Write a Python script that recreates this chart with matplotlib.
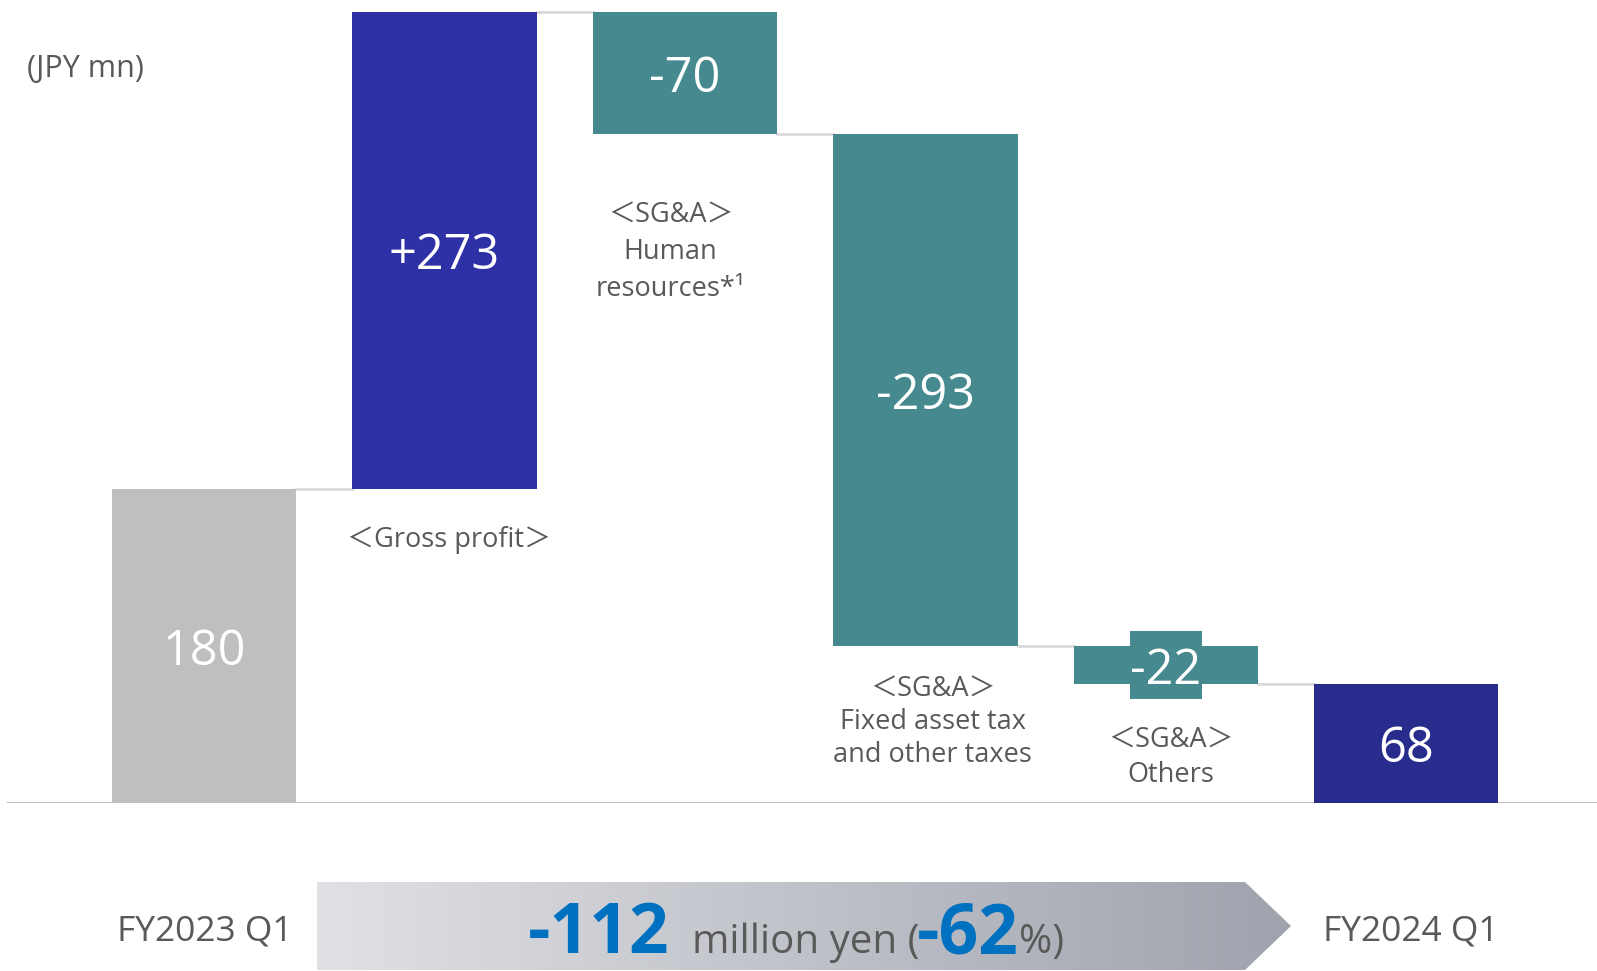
import matplotlib
matplotlib.use("Agg")
import matplotlib.pyplot as plt
import numpy as np
from matplotlib.patches import Polygon, Rectangle

# ---------------- data ----------------
start_label = "FY2023 Q1"
end_label = "FY2024 Q1"
start_value = 180
delta_values = [273, -70, -293, -22]
delta_texts = ["+273", "-70", "-293", "-22"]
delta_labels = ["＜Gross profit＞",
                "＜SG&A＞\nHuman\nresources*¹",
                "＜SG&A＞\nFixed asset tax\nand other taxes",
                "＜SG&A＞\nOthers"]
end_value = 68
unit_label = "(JPY mn)"
change_value = "-112"
change_pct = "-62"

# ---------------- style ----------------
W, H = 1597, 971
FONT = ["Open Sans", "Noto Sans CJK JP", "DejaVu Sans"]
GREY_TXT = "#595959"
BLUE_TXT = "#0070c0"
C_START = "#bfbfbf"
C_UP = "#2e31a6"
C_DOWN = "#468a8f"
C_END = "#282d8d"
CONN = "#d9d9d9"

plt.rcParams["font.family"] = FONT

fig = plt.figure(figsize=(W / 100, H / 100), dpi=100)
fig.patch.set_facecolor("white")

base_px = 168  # baseline height from bottom
ax = fig.add_axes([0, base_px / H, 1, (H - base_px) / H])
ax.set_xlim(-0.849, 5.794)
ax.set_ylim(0, 460)
ax.axis("off")

bw = 0.767
n = len(delta_values)
bottoms, heights, colors, texts = [], [], [], []
bottoms.append(0); heights.append(start_value); colors.append(C_START); texts.append(str(start_value))
level = start_value
levels = [level]
for d, t in zip(delta_values, delta_texts):
    if d >= 0:
        bottoms.append(level); heights.append(d); colors.append(C_UP)
    else:
        bottoms.append(level + d); heights.append(-d); colors.append(C_DOWN)
    texts.append(t)
    level += d
    levels.append(level)
bottoms.append(0); heights.append(end_value); colors.append(C_END); texts.append(str(end_value))

xs = np.arange(len(heights))

# baseline
ax.plot([-0.849 + 8 / 240.4, 5.794], [0, 0], color="#c0c0c0", lw=1.5, zorder=1)

ax.bar(xs, heights, bottom=bottoms, width=bw, color=colors, zorder=2)

# connectors
for i, lv in enumerate(levels):
    ax.plot([i + bw / 2, i + 1 - bw / 2], [lv, lv], color=CONN, lw=2, zorder=1)

# value labels
for i, (b, h, t) in enumerate(zip(bottoms, heights, texts)):
    yc = b + h / 2
    if h < 40:
        ax.add_patch(Rectangle((xs[i] - 0.15, yc - 19.5), 0.3, 39,
                               fc=colors[i], ec="none", zorder=2.5))
    ax.annotate(t, xy=(xs[i], yc), xytext=(0, -6), textcoords="offset pixels",
                ha="center", va="center", color="white", fontsize=35, zorder=3)

# category labels under delta bars
lab_offsets = [37, 66, 29, 41]
lab_linesp = [1.2, 1.44, 1.24, 1.35]
lab_dx = [0.02, -0.06, 0.03, 0.02]
for k in range(n):
    i = k + 1
    ax.annotate(delta_labels[k], xy=(xs[i] + lab_dx[k], bottoms[i]),
                xytext=(0, -lab_offsets[k]), textcoords="offset pixels",
                ha="center", va="top", fontsize=19.5, color=GREY_TXT,
                linespacing=lab_linesp[k], family=FONT)

# ---------------- overlay (pixel coords) ----------------
ov = fig.add_axes([0, 0, 1, 1], zorder=5)
ov.set_xlim(0, W)
ov.set_ylim(H, 0)
ov.axis("off")
ov.patch.set_alpha(0)

ov.text(27, 69, unit_label, ha="left", va="center", fontsize=22, color=GREY_TXT)

# gradient arrow
poly = Polygon([(317, 882), (1245, 882), (1291, 926), (1245, 970), (317, 970)],
               closed=True, fc="none", ec="none", transform=ov.transData)
ov.add_patch(poly)
c0 = np.array([0xe0, 0xe1, 0xe5]) / 255
c1 = np.array([0x9f, 0xa3, 0xad]) / 255
tt = np.linspace(0, 1, 256)[None, :, None]
grad = c0[None, None, :] * (1 - tt) + c1[None, None, :] * tt
im = ov.imshow(grad, extent=[317, 1291, 970, 882], aspect="auto",
               interpolation="bilinear", zorder=1)
im.set_clip_path(poly)
ov.set_xlim(0, W)
ov.set_ylim(H, 0)

ov.text(205, 940, start_label, ha="center", va="baseline", fontsize=25.5, color=GREY_TXT)
ov.text(1411, 940, end_label, ha="center", va="baseline", fontsize=25.5, color=GREY_TXT)

fig.canvas.draw()
r = fig.canvas.get_renderer()
x = 528
parts = [(change_value, 50, "bold", BLUE_TXT, 22),
         ("million yen (", 29, "normal", GREY_TXT, -2),
         (change_pct, 50, "bold", BLUE_TXT, 0),
         ("%)", 29, "normal", GREY_TXT, 0)]
for s, fs, fw, c, gap in parts:
    t = ov.text(x, 953, s, ha="left", va="baseline", fontsize=fs,
                fontweight=fw, color=c, zorder=3)
    bb = t.get_window_extent(renderer=r)
    x += bb.width + gap

fig.savefig("out.png", dpi=100, facecolor="white")
